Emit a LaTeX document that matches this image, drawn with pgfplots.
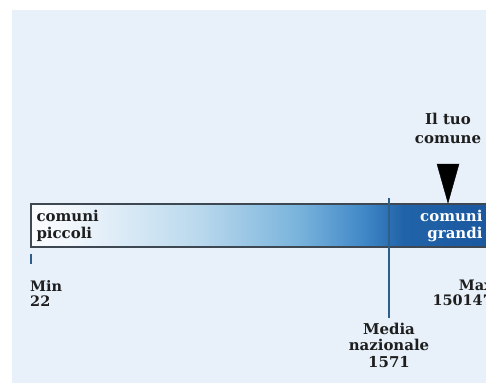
\documentclass[border=0pt]{standalone}
\usepackage{pgfplots}
\pgfplotsset{compat=1.18}
\usepackage{fontspec}
\setmainfont{DejaVu Serif}

\definecolor{panel}{HTML}{E8F1F9}
\definecolor{txt}{HTML}{1E1E1E}
\definecolor{medialine}{HTML}{2E5F8A}
\definecolor{barborder}{HTML}{3E4852}

% bar runs white -> light blue -> dark blue (middle 50bp = the bar)
\pgfdeclarehorizontalshading{barshade}{100bp}{
  rgb(0bp)=(0.98,0.99,1); rgb(25bp)=(0.98,0.99,1); rgb(29bp)=(0.95,0.97,0.99);
  rgb(43bp)=(0.73,0.85,0.93); rgb(54bp)=(0.47,0.70,0.86);
  rgb(61bp)=(0.25,0.53,0.78); rgb(65bp)=(0.13,0.39,0.66);
  rgb(75bp)=(0.10,0.34,0.62); rgb(100bp)=(0.10,0.34,0.62)
}

\begin{document}
\begin{tikzpicture}
\begin{axis}[
    width=486bp, height=383bp, scale only axis,
    xmin=0, xmax=486, ymin=0, ymax=383,
    y dir=reverse,
    hide axis, clip=false,
]
% background panel
\fill[panel] (axis cs:12,10) rectangle (axis cs:500,400);

% gradient bar
\shade[shading=barshade, draw=barborder, line width=1.2bp]
    (axis cs:31,204) rectangle (axis cs:495,247);

% national average line
\addplot[medialine, line width=1.6bp] coordinates {(389,198) (389,318)};

% min tick
\addplot[medialine, line width=1.6bp] coordinates {(31,254) (31,264)};

% your comune marker
\addplot[black, fill=black] coordinates {(437,164) (459,164) (448,203)} -- cycle;

\node[txt, font=\bfseries\fontsize{15}{17.5}\selectfont, align=left, anchor=west]
    at (axis cs:33,226) {comuni\\piccoli};
\node[white, font=\bfseries\fontsize{15}{17.5}\selectfont, align=right, anchor=east]
    at (axis cs:486,226) {comuni\\grandi};
\node[txt, font=\bfseries\fontsize{14.5}{15}\selectfont, align=left, anchor=north west, inner sep=0pt]
    at (axis cs:30,280) {Min\\22};
\node[txt, font=\bfseries\fontsize{14.5}{15}\selectfont, align=right, anchor=north east, inner sep=0pt]
    at (axis cs:493,280) {Max\\150147};
\node[txt, font=\bfseries\fontsize{15}{16.5}\selectfont, align=center, anchor=north, inner sep=0pt]
    at (axis cs:389,323) {Media\\nazionale\\1571};
\node[txt, font=\bfseries\fontsize{15}{19}\selectfont, align=center, anchor=south, inner sep=0pt]
    at (axis cs:448,144) {Il tuo\\comune};
\end{axis}
\pgfresetboundingbox
\useasboundingbox (0,0) rectangle (486bp,383bp);
\end{tikzpicture}
\end{document}
